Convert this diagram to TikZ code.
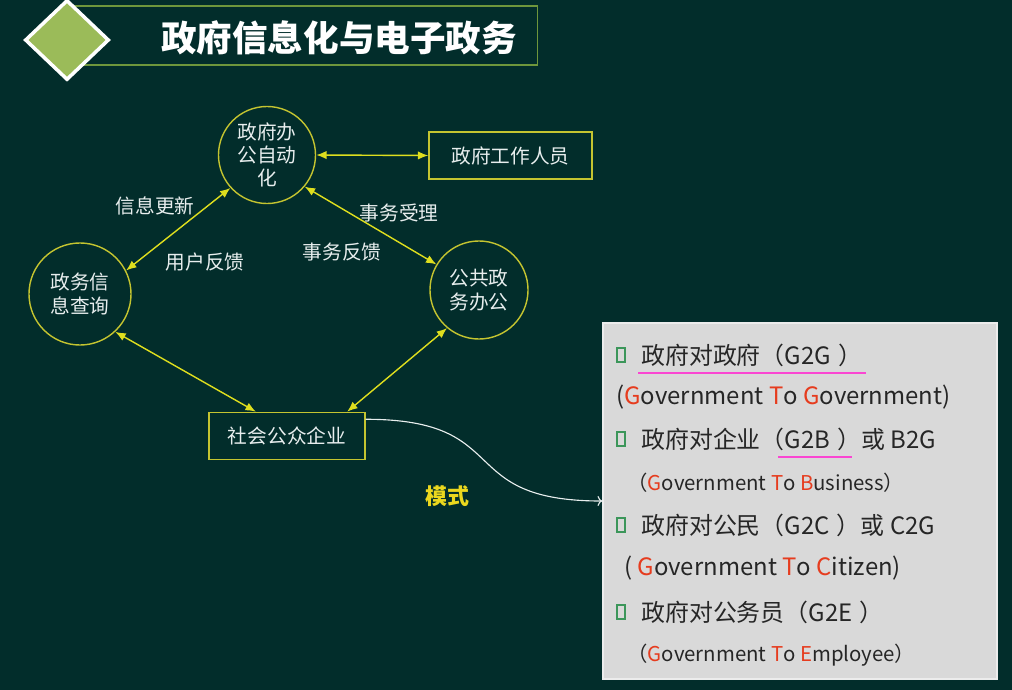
\documentclass[tikz,border=0pt]{standalone}
\usepackage{fontspec}
\setmainfont{Noto Sans CJK SC}
\usetikzlibrary{arrows.meta,shapes.geometric}
\definecolor{bgdark}{RGB}{2,45,43}
\definecolor{olive}{RGB}{196,196,48}
\definecolor{arrowyel}{RGB}{222,222,30}
\definecolor{modeyel}{RGB}{235,215,30}
\definecolor{leaf}{RGB}{155,187,89}
\definecolor{leafline}{RGB}{110,150,60}
\definecolor{paper}{RGB}{217,217,217}
\definecolor{rim}{RGB}{236,236,236}
\definecolor{ink}{RGB}{38,38,38}
\definecolor{gred}{RGB}{230,60,30}
\definecolor{pinkline}{RGB}{250,70,210}
\definecolor{tofu}{RGB}{60,150,90}
\definecolor{chalk}{RGB}{232,238,238}
\tikzset{
  ring/.style={circle,draw=olive,line width=1pt,text=chalk,align=center,inner sep=0pt,
    font=\fontsize{14pt}{16.5pt}\selectfont},
  plate/.style={rectangle,draw=olive,line width=1pt,text=chalk,inner sep=0pt,
    font=\fontsize{14pt}{16pt}\selectfont},
  link/.style={{Latex[length=2.6mm,width=2.1mm]}-{Latex[length=2.6mm,width=2.1mm]},
    draw=arrowyel,fill=arrowyel,line width=1pt},
  tag/.style={text=chalk,font=\fontsize{14pt}{16pt}\selectfont},
  item/.style={anchor=west,text=ink,inner sep=0pt,font=\fontsize{17pt}{20pt}\selectfont},
  gloss/.style={anchor=west,text=ink,inner sep=0pt,font=\fontsize{14.5pt}{17pt}\selectfont},
  tofubox/.style={draw=tofu,line width=1pt,minimum width=0.2cm,minimum height=0.35cm,inner sep=0pt}
}
\begin{document}
\begin{tikzpicture}[x=0.025cm,y=-0.025cm]
\fill[bgdark] (0,0) rectangle (1012,690);
\useasboundingbox (0,0) rectangle (1012,690);

% title
\node[draw=leafline,line width=0.8pt,minimum width=11.725cm,minimum height=1.475cm,inner sep=0pt] (titlebar) at (302.5,35.5) {};
\node[text=white,font=\bfseries\fontsize{25.3pt}{28pt}\selectfont] (title) at (339,38) {政府信息化与电子政务};
\node[diamond,fill=leaf,draw=white,line width=2.5pt,minimum width=2.1cm,minimum height=2cm,inner sep=0pt] (logo) at (67,40) {};

% left diagram
\node[ring,minimum size=2.425cm] (oa) at (267,155) {政府办\\公自动\\化};
\node[ring,minimum size=2.55cm] (query) at (80,294) {政务信\\息查询};
\node[ring,minimum size=2.45cm] (public) at (479,290) {公共政\\务办公};
\node[plate,minimum width=4.075cm,minimum height=1.175cm] (staff) at (510.5,155.5) {政府工作人员};
\node[plate,minimum width=3.9cm,minimum height=1.18cm] (soc) at (287,436) {社会公众企业};

\draw[link] (oa.east) -- (staff.west);
\draw[link] (oa.222) -- (query.27);
\draw[link] (oa.320) -- (public.149);
\draw[link] (query.313) -- (soc.142);
\draw[link] (public.230) -- (soc.22);

\node[tag] (upd) at (155,206) {信息更新};
\node[tag] (ufb) at (205,262) {用户反馈};
\node[tag] (acc) at (399,213) {事务受理};
\node[tag] (tfb) at (342,252) {事务反馈};
\node[text=modeyel,font=\bfseries\fontsize{15.6pt}{18pt}\selectfont] (mode) at (447,496) {模式};

% right panel
\node[fill=paper,draw=rim,line width=1pt,minimum width=9.85cm,minimum height=8.9cm,inner sep=0pt] (panel) at (800,501) {};
\draw[chalk,line width=0.8pt,->] (soc.12) .. controls +(150,0) and +(-150,0) .. (panel.west);

\node[tofubox] (b1) at (621,355) {};
\node[tofubox] (b2) at (621,439) {};
\node[tofubox] (b3) at (621,525) {};
\node[tofubox] (b4) at (621,612) {};
\node[item] (g2g) at (641,355) {政府对政府（G2G\kern.3em）};
\node[item] (g2gen) at (616,397) {(\textcolor{gred}{G}overnment \textcolor{gred}{T}o \textcolor{gred}{G}overnment)};
\node[item] (g2b) at (641,439) {政府对企业（G2B\kern.3em）或 B2G};
\node[gloss] (g2ben) at (627,483) {（\textcolor{gred}{G}overnment \textcolor{gred}{T}o \textcolor{gred}{B}usiness）};
\node[item] (g2c) at (641,525) {政府对公民（G2C\kern.3em）或 C2G};
\node[item] (g2cen) at (624,568) {( \textcolor{gred}{G}overnment \textcolor{gred}{T}o \textcolor{gred}{C}itizen)};
\node[item] (g2e) at (641,612) {政府对公务员（G2E\kern.3em）};
\node[gloss] (g2een) at (627,655) {（\textcolor{gred}{G}overnment \textcolor{gred}{T}o \textcolor{gred}{E}mployee）};
\draw[pinkline,line width=1.2pt] (638,373) -- (866,373);
\draw[pinkline,line width=1.2pt] (778,457) -- (852,457);
\end{tikzpicture}
\end{document}
